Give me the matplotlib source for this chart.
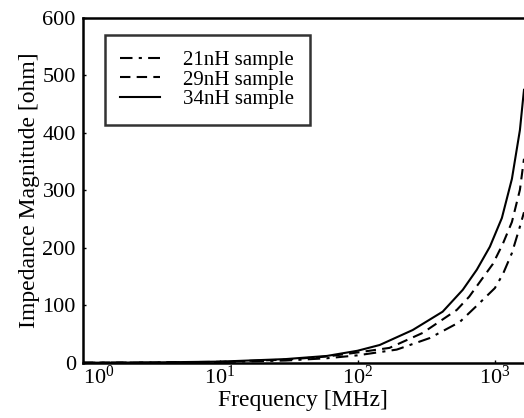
#Impedance magnitude vs frequency for three inductor samples

import matplotlib.pyplot as plt

plt.rcParams['font.family'] = 'Liberation Serif'
plt.rcParams['mathtext.fontset'] = 'custom'
plt.rcParams['mathtext.rm'] = 'Liberation Serif'

labels = ["21nH sample", "29nH sample", "34nH sample"]

f21 = [1, 3, 10, 30, 60, 100, 193, 335, 555, 751, 1000, 1143, 1331, 1522, 1630]
z21 = [0.1, 0.4, 1.3, 4, 8, 13, 23, 43, 71, 101, 130, 154, 191, 237, 262]

f29 = [1, 3, 10, 30, 60, 100, 171, 298, 528, 650, 790, 967, 1143, 1331, 1522, 1601, 1630]
z29 = [0.2, 0.5, 1.8, 5.5, 11, 18, 26, 52, 92, 115, 143, 172, 207, 245, 301, 341, 355]

f34 = [1, 3, 10, 30, 60, 100, 145, 252, 417, 584, 739, 920, 1125, 1331, 1522, 1601, 1630]
z34 = [0.2, 0.6, 2.1, 6.5, 12, 21, 31, 57, 89, 127, 162, 202, 252, 320, 405, 457, 475]

fig = plt.figure(figsize=(5.24, 4.18), dpi=100)
ax = fig.add_axes([0.158, 0.132, 0.842, 0.825])

l1, = ax.plot(f21, z21, color='black', lw=1.5, linestyle=(0, (6, 3, 1.5, 3)))
l2, = ax.plot(f29, z29, color='black', lw=1.5, linestyle=(0, (5, 3)))
l3, = ax.plot(f34, z34, color='black', lw=1.5, linestyle='-')

ax.set_xscale('log')
ax.set_xlim(1, 1630)
ax.set_ylim(0, 600)
ax.set_xticks([1, 10, 100, 1000])
ax.minorticks_off()
ax.set_yticks([0, 100, 200, 300, 400, 500, 600])

for s in ['left', 'bottom', 'top']:
    ax.spines[s].set_linewidth(1.8)
ax.spines['right'].set_visible(False)

ax.tick_params(direction='in', length=2, width=1, labelsize=16, pad=5)
ax.tick_params(axis='x', pad=2)
fig.canvas.draw()
ax.get_xticklabels()[0].set_horizontalalignment('left')

ax.set_xlabel("Frequency [MHz]", fontsize=17, labelpad=1)
ax.set_ylabel("Impedance Magnitude [ohm]", fontsize=17, labelpad=2)

leg = ax.legend([l1, l2, l3], labels, loc='upper left', bbox_to_anchor=(0.05, 0.951),
                fontsize=15, frameon=True, fancybox=False, handlelength=1.9,
                borderpad=0.75, labelspacing=0.0, handletextpad=1.1,
                borderaxespad=0)
leg.get_frame().set_edgecolor('black')
leg.get_frame().set_linewidth(1.8)

plt.savefig('out.png', dpi=100)
plt.close()
